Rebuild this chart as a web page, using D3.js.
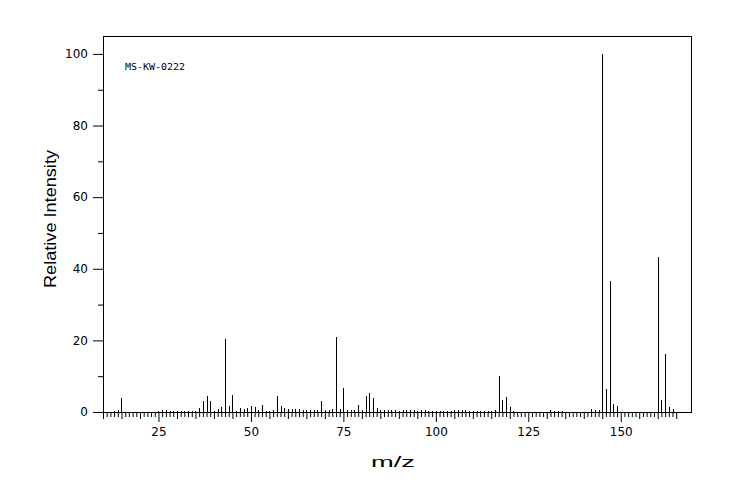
<!DOCTYPE html>
<html>
<head>
<meta charset="utf-8">
<script src="https://cdn.jsdelivr.net/npm/d3@7"></script>
<style>
  html, body { margin: 0; padding: 0; background: #fff; }
  svg { display: block; }
</style>
</head>
<body>
<svg id="chart" width="744" height="500"></svg>
<script>
// ---- data ----
const mz = [13,14,15,
  25,26,27,28,29,30,31,32,33,34,35,36,37,38,39,40,41,42,43,44,45,46,47,48,49,50,
  51,52,53,54,55,56,57,58,59,60,61,62,63,64,65,66,67,68,69,70,71,72,73,74,75,
  76,77,78,79,80,81,82,83,84,85,86,87,88,89,90,91,92,93,94,95,96,97,98,99,100,
  101,102,103,104,105,106,107,108,109,110,111,112,113,114,115,116,117,118,119,120,121,
  131,132,133,134,142,143,144,145,146,147,148,149,160,161,162,163,164];
const intensity = [0.4,0.6,3.9,
  0.4,0.6,0.6,0.4,0.3,0.2,0.3,0.3,0.3,0.3,0.4,1.1,3.2,4.5,3.2,0.4,0.8,1.5,20.3,1.7,4.7,0.4,1.0,0.7,1.0,1.7,
  1.3,0.5,1.9,0.4,0.4,0.5,4.4,1.6,1.2,0.7,0.7,0.7,0.8,0.5,0.5,0.5,0.5,0.5,3.1,0.5,0.6,0.8,20.9,0.9,6.7,
  0.5,0.5,0.5,1.9,0.5,4.5,5.4,3.9,1.0,0.5,0.5,0.5,0.5,0.5,0.4,0.5,0.6,0.6,0.5,0.4,0.5,0.5,0.4,0.4,0.3,
  0.4,0.3,0.3,0.4,0.5,0.5,0.5,0.5,0.4,0.3,0.4,0.4,0.3,0.4,0.4,0.6,10.0,3.3,4.2,1.4,0.4,
  0.6,0.4,0.4,0.3,0.8,0.5,0.6,100,6.4,36.5,2.3,1.6,43.2,3.3,16.2,1.4,0.8];
const xMajorTicks = [25, 50, 75, 100, 125, 150];
const yMajorTicks = [0, 20, 40, 60, 80, 100];
const yMinorTicks = [10, 30, 50, 70, 90];
const xTickRange = [10, 165];
const xDomain = [10, 169];
const yDomain = [0, 105];
const annotation = "MS-KW-0222";
const xTitle = "m/z";
const yTitle = "Relative Intensity";

// ---- layout ----
const W = 744, H = 500;
const m = { left: 103, top: 36, right: 53, bottom: 88 };
const iw = W - m.left - m.right, ih = H - m.top - m.bottom;

const svg = d3.select("#chart");
const g = svg.append("g").attr("transform", `translate(${m.left},${m.top})`);

const x = d3.scaleLinear().domain(xDomain).range([0, iw]);
const y = d3.scaleLinear().domain(yDomain).range([ih, 0]);

// x ticks: every unit (short), every 5 (medium), every 25 (long, labelled)
const allX = d3.range(xTickRange[0], xTickRange[1] + 1);
const minorX = allX.filter(v => v % 5 !== 0);
const medX = allX.filter(v => v % 5 === 0 && v % 25 !== 0);

function styleAxis(sel) {
  sel.select(".domain").remove();
  sel.selectAll(".tick line").attr("stroke", "#000").attr("stroke-width", 1);
}
function styleLabels(sel) {
  sel.selectAll(".tick text")
    .style("font-family", "'DejaVu Sans', sans-serif")
    .style("font-size", "12px")
    .attr("fill", "#000");
}

g.append("g").attr("transform", `translate(0,${ih})`)
  .call(d3.axisBottom(x).tickValues(minorX).tickSize(5).tickFormat(""))
  .call(styleAxis);
g.append("g").attr("transform", `translate(0,${ih})`)
  .call(d3.axisBottom(x).tickValues(medX).tickSize(7).tickFormat(""))
  .call(styleAxis);
g.append("g").attr("transform", `translate(0,${ih})`)
  .call(d3.axisBottom(x).tickValues(xMajorTicks).tickSize(10).tickPadding(5).tickFormat(d3.format("d")))
  .call(styleAxis).call(styleLabels);

g.append("g")
  .call(d3.axisLeft(y).tickValues(yMinorTicks).tickSize(5).tickFormat(""))
  .call(styleAxis);
g.append("g")
  .call(d3.axisLeft(y).tickValues(yMajorTicks).tickSize(10).tickPadding(5).tickFormat(d3.format("d")))
  .call(styleAxis).call(styleLabels);

// peaks
const data = mz.map((d, i) => ({ mz: d, v: intensity[i] }));
g.append("g").selectAll("line").data(data).join("line")
  .attr("x1", d => Math.round(x(d.mz)) + 0.5)
  .attr("x2", d => Math.round(x(d.mz)) + 0.5)
  .attr("y1", y(0))
  .attr("y2", d => y(d.v))
  .attr("stroke", "#000")
  .attr("stroke-width", 1)
  .attr("shape-rendering", "crispEdges");

// frame
g.append("rect")
  .attr("x", 0.5).attr("y", 0.5)
  .attr("width", iw).attr("height", ih)
  .attr("fill", "none").attr("stroke", "#000").attr("stroke-width", 1)
  .attr("shape-rendering", "crispEdges");

// annotation
g.append("text")
  .attr("x", 22).attr("y", 34)
  .style("font-family", "'DejaVu Sans Mono', monospace")
  .style("font-size", "8px")
  .attr("fill", "#000")
  .attr("textLength", 60).attr("lengthAdjust", "spacingAndGlyphs")
  .text(annotation);

// axis titles
svg.append("text")
  .attr("x", m.left + iw / 2 - 4).attr("y", 467)
  .attr("text-anchor", "middle")
  .style("font-family", "'Liberation Sans', Arial, sans-serif")
  .style("font-size", "15.5px")
  .attr("fill", "#000")
  .attr("textLength", 44).attr("lengthAdjust", "spacingAndGlyphs")
  .text(xTitle);

svg.append("text")
  .attr("transform", `translate(56,219) rotate(-90)`)
  .attr("text-anchor", "middle")
  .style("font-family", "'Liberation Sans', Arial, sans-serif")
  .style("font-size", "16px")
  .attr("fill", "#000")
  .attr("textLength", 138).attr("lengthAdjust", "spacingAndGlyphs")
  .text(yTitle);
</script>
</body>
</html>
